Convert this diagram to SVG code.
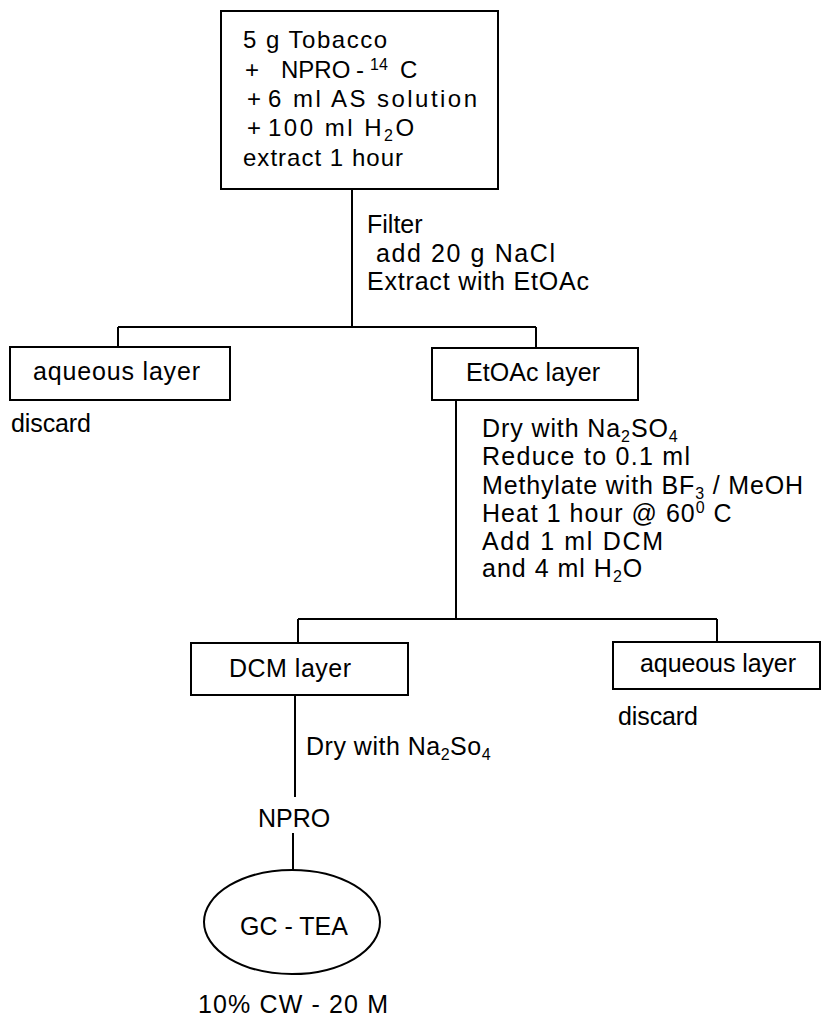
<svg xmlns="http://www.w3.org/2000/svg" width="822" height="1025" viewBox="0 0 822 1025">
<style>
text{font-family:"Liberation Sans",Arial,Helvetica,sans-serif;font-size:25px;fill:#000}
.t{font-size:24px}
.sub{font-size:16px}
.box{fill:#fff;stroke:#000;stroke-width:2}
.ln{stroke:#000;stroke-width:2;fill:none}
</style>
<rect width="822" height="1025" fill="#fff"/>
<g id="connectors" class="ln">
<path d="M352 189V327M118 327H536M118 327V347M536 327V348"/>
<path d="M456 400V619M298 619H717M298 619V643M717 619V642"/>
<path d="M295 695V797"/>
<path d="M293 833V870"/>
</g>
<g id="start">
<rect class="box" x="221" y="11" width="277" height="178"/>
<text class="t" x="243" y="48" textLength="144" lengthAdjust="spacing">5 g Tobacco</text>
<text class="t" x="245" y="78">+</text>
<text class="t" x="281" y="78">NPRO</text>
<text class="t" x="356" y="78">-</text>
<text class="sub" x="370" y="70">14</text>
<text class="t" x="400" y="78">C</text>
<text class="t" x="247" y="107">+</text>
<text class="t" x="268" y="107" textLength="209" lengthAdjust="spacing">6 ml AS solution</text>
<text class="t" x="247" y="136">+</text>
<text class="t" x="268" y="136" letter-spacing="2.5">100 ml H<tspan class="sub" dy="5">2</tspan><tspan dy="-5">O</tspan></text>
<text class="t" x="243" y="166" textLength="160" lengthAdjust="spacing">extract 1 hour</text>
</g>
<g id="step1-label">
<text x="367" y="233">Filter</text>
<text x="376" y="262" textLength="179" lengthAdjust="spacing">add  20 g NaCl</text>
<text x="367" y="290" textLength="222" lengthAdjust="spacing">Extract with EtOAc</text>
</g>
<g id="aqueous1">
<rect class="box" x="10" y="347" width="220" height="53"/>
<text x="33" y="380" textLength="167" lengthAdjust="spacing">aqueous layer</text>
<text x="11" y="432" textLength="80" lengthAdjust="spacing">discard</text>
</g>
<g id="etoac">
<rect class="box" x="432" y="348" width="206" height="52"/>
<text x="466" y="381" textLength="134" lengthAdjust="spacing">EtOAc layer</text>
</g>
<g id="step2-label">
<text x="482" y="437" letter-spacing="0.9">Dry with Na<tspan class="sub" dy="5">2</tspan><tspan dy="-5">SO</tspan><tspan class="sub" dy="5">4</tspan></text>
<text x="482" y="465" textLength="208" lengthAdjust="spacing">Reduce to 0.1 ml</text>
<text x="482" y="494" letter-spacing="0.85">Methylate with BF<tspan class="sub" dy="5">3</tspan><tspan dy="-5"> / MeOH</tspan></text>
<text x="482" y="522" letter-spacing="1">Heat 1 hour @ 60<tspan class="sub" dy="-9">0</tspan><tspan dy="9"> C</tspan></text>
<text x="482" y="550" textLength="181" lengthAdjust="spacing">Add 1 ml DCM</text>
<text x="482" y="577" letter-spacing="1">and 4 ml H<tspan class="sub" dy="5">2</tspan><tspan dy="-5">O</tspan></text>
</g>
<g id="dcm">
<rect class="box" x="191" y="643" width="217" height="52"/>
<text x="229" y="677" textLength="122" lengthAdjust="spacing">DCM layer</text>
</g>
<g id="aqueous2">
<rect class="box" x="613" y="642" width="207" height="47"/>
<text x="640" y="672" textLength="156" lengthAdjust="spacing">aqueous layer</text>
<text x="618" y="725" textLength="80" lengthAdjust="spacing">discard</text>
</g>
<g id="step3-label">
<text x="306" y="755" letter-spacing="0.5">Dry with Na<tspan class="sub" dy="5">2</tspan><tspan dy="-5">So</tspan><tspan class="sub" dy="5">4</tspan></text>
</g>
<g id="npro">
<text x="258" y="827">NPRO</text>
</g>
<g id="gctea">
<ellipse class="box" cx="292" cy="922" rx="88" ry="52"/>
<text x="240" y="935">GC - TEA</text>
<text x="198" y="1013" textLength="190" lengthAdjust="spacing">10% CW - 20 M</text>
</g>
</svg>
